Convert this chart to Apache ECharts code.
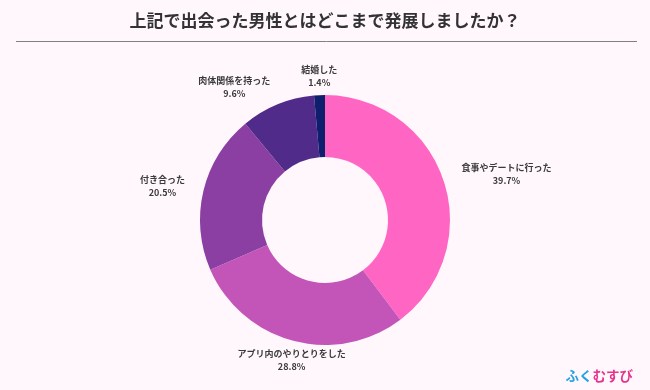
<!DOCTYPE html>
<html>
<head>
<meta charset="utf-8">
<script src="https://cdn.jsdelivr.net/npm/echarts@6/dist/echarts.min.js"></script>
<style>
html,body{margin:0;padding:0;background:#fff7fc;}
#c{width:650px;height:390px;}
</style>
</head>
<body>
<div id="c"></div>
<script>
const titleText = '上記で出会った男性とはどこまで発展しましたか？';
const categories = ['食事やデートに行った', 'アプリ内のやりとりをした', '付き合った', '肉体関係を持った', '結婚した'];
const values = [39.7, 28.8, 20.5, 9.6, 1.4];
const colors = ['#ff66c4', '#c455b8', '#8b3fa3', '#512b8a', '#0f1f6e'];

const CX = 325, CY = 220, R_OUT = 125, R_IN = 63;
const total = values.reduce((a, b) => a + b, 0);

function midDir(i) {
  let before = 0;
  for (let k = 0; k < i; k++) before += values[k];
  const frac = (before + values[i] / 2) / total;
  const a = frac * 2 * Math.PI;
  return [Math.sin(a), -Math.cos(a)];
}

const chart = echarts.init(document.getElementById('c'));
const font = '"Noto Sans CJK JP", "Noto Sans", sans-serif';
chart.setOption({
  backgroundColor: '#fff7fc',
  animation: false,
  title: {
    text: titleText,
    left: 'center',
    top: 7,
    textStyle: {fontFamily: font, fontSize: 17, fontWeight: 'bold', color: '#333'}
  },
  graphic: [
    {type: 'line', shape: {x1: 16, y1: 41.5, x2: 637, y2: 41.5}, style: {stroke: '#808080', lineWidth: 1}},
    {type: 'text', right: 17, bottom: 7, style: {
      text: '{a|ふく}{b|むすび}', fontFamily: font,
      rich: {a: {fill: '#22a3e2', fontSize: 13.5, fontWeight: 'bold', fontFamily: font},
             b: {fill: '#e4348c', fontSize: 13.5, fontWeight: 'bold', fontFamily: font}}
    }}
  ],
  series: [{
    type: 'pie',
    center: [CX, CY],
    radius: [R_IN, R_OUT],
    startAngle: 90,
    clockwise: true,
    color: colors,
    data: categories.map((n, i) => ({name: n, value: values[i]})),
    label: {
      show: true,
      position: 'outside',
      formatter: p => p.name + '\n' + p.value.toFixed(1) + '%',
      fontFamily: font,
      fontSize: 9,
      fontWeight: 'bold',
      lineHeight: 13,
      color: '#3a3a3a'
    },
    labelLine: {show: false, length: 10, length2: 6},
    labelLayout: function (p) {
      const u = midDir(p.dataIndex);
      const w = p.labelRect.width, h = p.labelRect.height;
      let x, y;
      if (Math.abs(u[0]) > 0.3) {
        const t = R_OUT + 19;
        x = CX + u[0] * t + Math.sign(u[0]) * w / 2;
        y = CY + u[1] * t;
      } else {
        const t = R_OUT + 6;
        x = CX + u[0] * t;
        y = CY + u[1] * t + Math.sign(u[1]) * h / 2;
      }
      return {x: x, y: y, align: 'center', verticalAlign: 'middle'};
    },
    itemStyle: {borderWidth: 0}
  }]
});
</script>
</body>
</html>
